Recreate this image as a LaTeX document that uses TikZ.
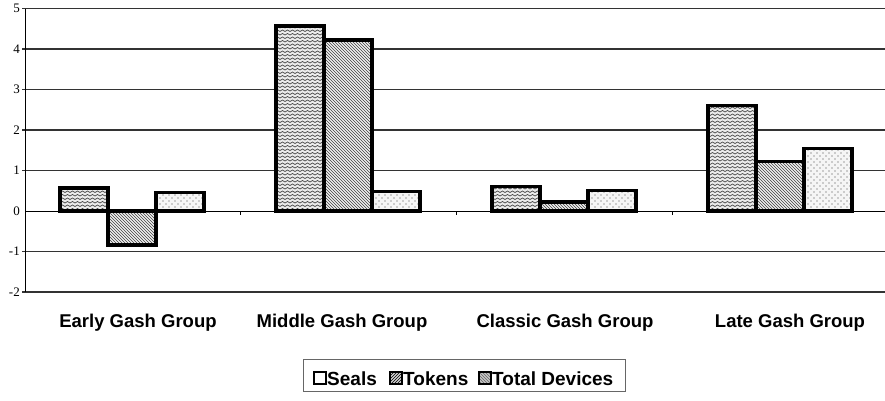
\documentclass[tikz,border=0pt]{standalone}
\usepackage{fontspec}
\setmainfont{Liberation Sans}
\newfontfamily\axisfont{Liberation Serif}
\usetikzlibrary{patterns}
\pgfdeclarepatternformonly{mywaves}{\pgfqpoint{-1pt}{-1pt}}{\pgfqpoint{6pt}{4.5pt}}{\pgfqpoint{5pt}{3.5pt}}{%
  \pgfsetlinewidth{0.7pt}%
  \pgfpathmoveto{\pgfqpoint{0pt}{1pt}}%
  \pgfpathcurveto{\pgfqpoint{1.2pt}{1pt}}{\pgfqpoint{1.3pt}{2.5pt}}{\pgfqpoint{2.5pt}{2.5pt}}%
  \pgfpathcurveto{\pgfqpoint{3.7pt}{2.5pt}}{\pgfqpoint{3.8pt}{1pt}}{\pgfqpoint{5pt}{1pt}}%
  \pgfusepath{stroke}}
\pgfdeclarepatternformonly{mydots}{\pgfqpoint{-1pt}{-1pt}}{\pgfqpoint{7pt}{7pt}}{\pgfqpoint{6pt}{6pt}}{%
  \pgfpathcircle{\pgfqpoint{1pt}{1pt}}{0.6pt}%
  \pgfpathcircle{\pgfqpoint{4pt}{4pt}}{0.6pt}%
  \pgfusepath{fill}}
\tikzset{
  grid/.style={draw=black!80, line width=1.1pt},
  axisline/.style={draw=black, line width=1pt},
  bar/.style={draw=black, line width=3.2pt, line join=miter},
  sealbar/.style={bar, preaction={fill=gray!15}, pattern=mywaves, pattern color=black!70},
  tokenbar/.style={bar, preaction={fill=gray!12}, pattern=north west lines, pattern color=black!75},
  totalbar/.style={bar, preaction={fill=gray!8}, pattern=mydots, pattern color=black!75},
  ylab/.style={anchor=east, font=\axisfont\fontsize{13}{15}\selectfont, inner sep=0pt},
  catlab/.style={font=\bfseries\fontsize{18.5}{21}\selectfont, inner sep=0pt},
  leglab/.style={anchor=west, font=\bfseries\fontsize{19}{21}\selectfont, inner sep=0pt},
  legsq/.style={draw=black, line width=1.6pt, minimum size=11.5pt, inner sep=0pt},
}
\begin{document}
\begin{tikzpicture}[x=1pt,y=-1pt]
\useasboundingbox[fill=white] (0,0) rectangle (885,400);
% grid lines
\foreach \v in {-2,-1,1,2,3,4,5}{
  \draw[grid] (22,{211-40.5*\v}) -- (885,{211-40.5*\v});
}
% y labels
\foreach \v/\t in {5/5,4/4,3/3,2/2,1/1,0/0,-1/-1,-2/-2}{
  \node[ylab] (y\v) at (20,{211-40.5*\v}) {\t};
}
% y axis
\draw[axisline] (25,{211-40.5*5}) -- (25,{211+40.5*2});
% bars
\foreach \i/\a/\b/\c in {0/0.57/-0.84/0.45, 1/4.57/4.22/0.48, 2/0.6/0.22/0.5, 3/2.6/1.23/1.55}{
  \draw[sealbar] ({60+216*\i},211) rectangle ++(48,{-40.5*\a});
  \draw[tokenbar] ({108+216*\i},211) rectangle ++(48,{-40.5*\b});
  \draw[totalbar] ({156+216*\i},211) rectangle ++(48,{-40.5*\c});
}
% zero line and ticks
\draw[axisline] (25,211) -- (885,211);
\foreach \x in {240,456,672}{
  \draw[axisline] (\x,211) -- (\x,215);
}
% category labels
\node[catlab] (c1) at (138,323) {Early Gash Group};
\node[catlab] (c2) at (342,323) {Middle Gash Group};
\node[catlab] (c3) at (565,323) {Classic Gash Group};
\node[catlab] (c4) at (790,323) {Late Gash Group};
% legend
\draw[draw=black!60, line width=0.9pt] (303,359) rectangle (625,391);
\node[legsq, fill=white] (sq1) at (320,378) {};
\node[leglab] (l1) at (327,379) {Seals};
\node[legsq, preaction={fill=gray!35}, pattern=north east lines] (sq2) at (396,378) {};
\node[leglab] (l2) at (403,379) {Tokens};
\node[legsq, preaction={fill=gray!45}, pattern=north west lines, pattern color=black!60] (sq3) at (485,378) {};
\node[leglab] (l3) at (492,379) {Total Devices};
\end{tikzpicture}
\end{document}
